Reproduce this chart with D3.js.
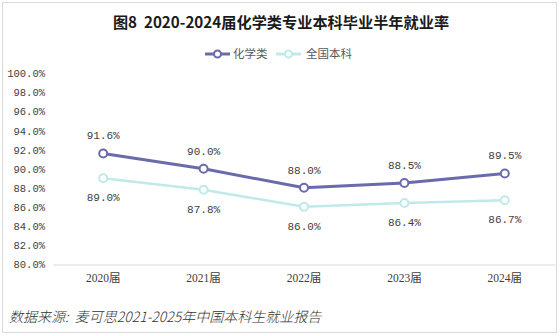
<!DOCTYPE html>
<html><head><meta charset="utf-8">
<script src="https://cdn.jsdelivr.net/npm/d3@7"></script>
<style>html,body{margin:0;padding:0;background:#fff;}svg{display:block;}</style>
</head><body>
<svg id="c" width="560" height="336"></svg>
<script>
const years = ["2020届","2021届","2022届","2023届","2024届"];
const chem = [91.6, 90.0, 88.0, 88.5, 89.5];
const national = [89.0, 87.8, 86.0, 86.4, 86.7];
const yTicks = [80,82,84,86,88,90,92,94,96,98,100];
const seriesNames = ["化学类","全国本科"];
const colors = ["#6b6bac","#c0eaea"];

const svg = d3.select("#c");
svg.append("rect").attr("x",2.5).attr("y",2.5).attr("width",554).attr("height",330)
  .attr("fill","#fff").attr("stroke","#d9d9d9");

svg.append("text").attr("x",281).attr("y",28).attr("text-anchor","middle")
  .attr("font-family","'Noto Sans CJK SC'").attr("font-weight","bold").attr("font-size",15.2)
  .attr("fill","#1a1a1a").text("图8\u00a0\u00a02020-2024届化学类专业本科毕业半年就业率");

const x = d3.scaleBand().domain(years).range([53,555]);
const y = d3.scaleLinear().domain([80,100]).range([264,73.5]);

const ya = svg.append("g").attr("transform","translate(45,0)")
  .call(d3.axisLeft(y).tickValues(yTicks).tickSize(0).tickPadding(0).tickFormat(d=>d.toFixed(1)+"%"));
ya.select(".domain").remove();
ya.selectAll("text").attr("font-family","'Liberation Mono'").attr("font-size",10.5).attr("fill","#404040");

const xa = svg.append("g").attr("transform","translate(0,264.5)")
  .call(d3.axisBottom(x).tickSize(0).tickPadding(9));
xa.select(".domain").attr("stroke","#d9d9d9");
xa.selectAll("text").attr("font-family","'Liberation Serif','Noto Sans CJK SC'").attr("font-size",11.5).attr("fill","#404040");

const cx = d => x(d) + x.bandwidth()/2;
const data = [chem, national];
const line = d3.line().x((d,i)=>cx(years[i])).y(d=>y(d));

[1,0].forEach(s=>{
  svg.append("path").datum(data[s]).attr("d",line).attr("fill","none")
    .attr("stroke",colors[s]).attr("stroke-width", s===0?3:2.5).attr("stroke-linejoin","round");
  svg.selectAll(null).data(data[s]).enter().append("circle")
    .attr("cx",(d,i)=>cx(years[i])).attr("cy",d=>y(d)).attr("r",4)
    .attr("fill","#fff").attr("stroke",colors[s]).attr("stroke-width",2);
  svg.selectAll(null).data(data[s]).enter().append("text")
    .attr("x",(d,i)=>cx(years[i])).attr("y",d=>y(d) + (s===0?-18:19)).attr("dy","0.35em")
    .attr("text-anchor","middle").attr("font-family","'Liberation Mono'").attr("font-size",11)
    .attr("fill","#404040").text(d=>d.toFixed(1)+"%");
});

const leg = [{x:205,w:25},{x:276,w:25}];
const legText = [233,306];
seriesNames.forEach((n,i)=>{
  const g = svg.append("g");
  g.append("line").attr("x1",leg[i].x).attr("x2",leg[i].x+leg[i].w).attr("y1",54).attr("y2",54)
    .attr("stroke",colors[i]).attr("stroke-width",3);
  g.append("circle").attr("cx",leg[i].x+leg[i].w/2).attr("cy",54).attr("r",3.5)
    .attr("fill","#fff").attr("stroke",colors[i]).attr("stroke-width",2);
  g.append("text").attr("x",legText[i]).attr("y",54).attr("dy","0.35em")
    .attr("font-family","'Noto Sans CJK SC'").attr("font-size",11.5).attr("fill","#595959").text(n);
});

svg.append("text").attr("x",9).attr("y",322)
  .attr("font-family","'Noto Sans CJK SC'").attr("font-style","italic").attr("font-weight",300).attr("font-size",14)
  .attr("fill","#333").text("数据来源:\u00a0\u00a0麦可思2021-2025年中国本科生就业报告");
</script>
</body></html>
